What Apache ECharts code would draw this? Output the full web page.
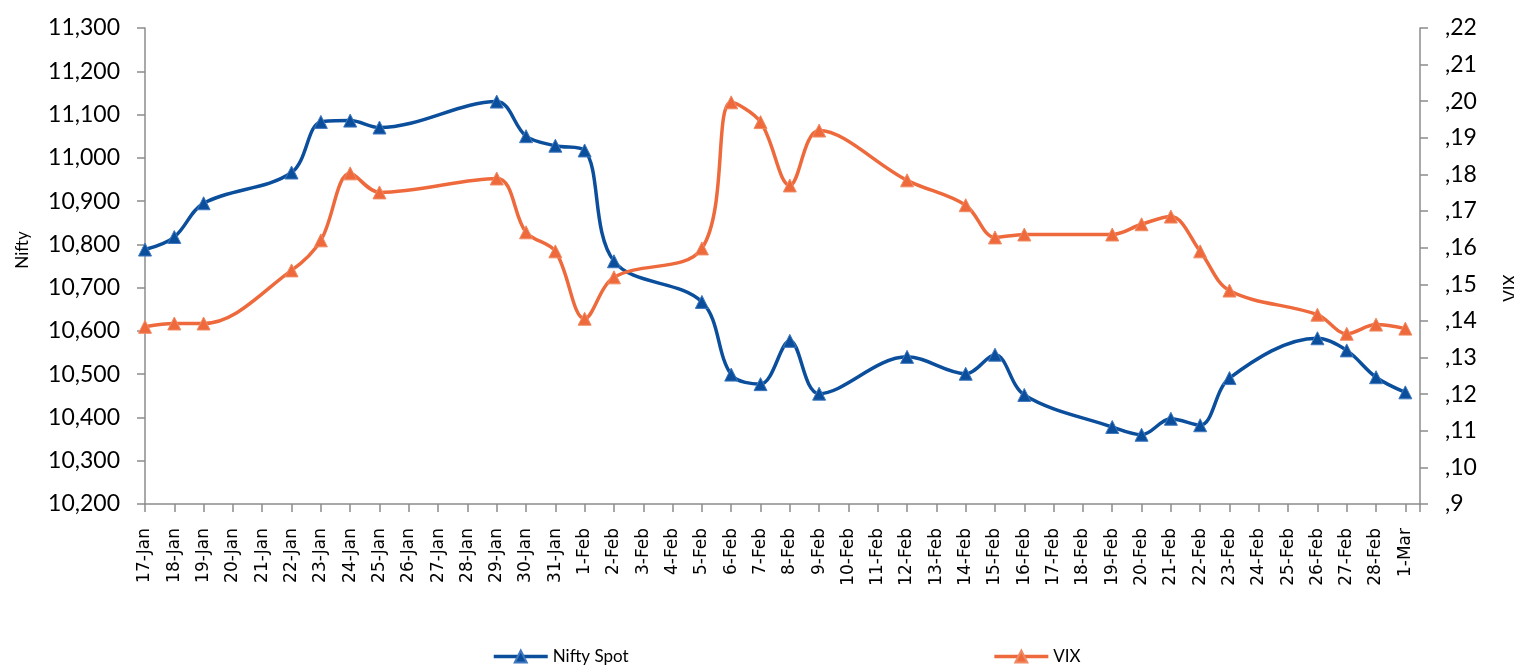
<!DOCTYPE html>
<html>
<head>
<meta charset="utf-8">
<script src="https://cdn.jsdelivr.net/npm/echarts@6/dist/echarts.min.js"></script>
<style>
html,body{margin:0;padding:0;background:#fff;overflow:hidden;}
#chart{width:1514px;height:665px;}
</style>
</head>
<body>
<div id="chart"></div>
<script>
var categories = ['17-Jan','18-Jan','19-Jan','20-Jan','21-Jan','22-Jan','23-Jan','24-Jan','25-Jan','26-Jan','27-Jan','28-Jan','29-Jan','30-Jan','31-Jan',
  '1-Feb','2-Feb','3-Feb','4-Feb','5-Feb','6-Feb','7-Feb','8-Feb','9-Feb','10-Feb','11-Feb','12-Feb','13-Feb','14-Feb','15-Feb','16-Feb','17-Feb','18-Feb','19-Feb','20-Feb','21-Feb','22-Feb','23-Feb','24-Feb','25-Feb','26-Feb','27-Feb','28-Feb','1-Mar'];

// null = no trading day (line passes over)
var niftySpot = [10788,10817,10895,null,null,10966,11083,11086,11070,null,null,null,11130,11050,11028,
  11017,10761,null,null,10667,10499,10477,10577,10455,null,null,10540,null,10501,10545,10452,null,null,10378,10360,10397,10382,10491,null,null,10583,10555,10493,10458];

var vix = [13.84,13.93,13.93,null,null,15.38,16.20,18.03,17.51,null,null,null,17.89,16.42,15.90,
  14.06,15.19,null,null,15.98,19.97,19.43,17.70,19.20,null,null,17.84,null,17.16,16.28,16.36,null,null,16.36,16.64,16.85,15.90,14.83,null,null,14.17,13.65,13.90,13.79];

var leftTicks = {min:10200, max:11300, interval:100};
var rightTicks = {min:9, max:22, interval:1};

function toPairs(arr){
  var out = [];
  arr.forEach(function(v,i){ if(v!==null) out.push([i,v]); });
  return out;
}

var blue = '#0B4F9C';
var orange = '#EE6A3C';
var axisColor = '#8C8C8C';

var chart = echarts.init(document.getElementById('chart'));
chart.setOption({
  animation:false,
  grid:{left:145, right:94, top:28, bottom:161, containLabel:false, outerBoundsMode:'none'},
  legend:{
    left:487, top:643,
    itemWidth:54, itemHeight:15, itemGap:364,
    lineStyle:{width:3.5},
    textStyle:{fontFamily:'Lato', fontSize:17, color:'#000'},
    data:['Nifty Spot','VIX']
  },
  xAxis:{
    type:'value', min:0, max:categories.length-0.5, interval:1,
    axisLine:{lineStyle:{color:axisColor, width:1.5}},
    axisTick:{length:8, lineStyle:{color:axisColor, width:1.5}},
    splitLine:{show:false},
    axisLabel:{
      rotate:90, margin:24, fontFamily:'DejaVu Sans', fontSize:17, color:'#000',
      showMaxLabel:true, showMinLabel:true,
      formatter:function(v){ return (Number.isInteger(v) && categories[v]) ? categories[v] : ''; }
    }
  },
  yAxis:[{
    type:'value', min:leftTicks.min, max:leftTicks.max, interval:leftTicks.interval,
    name:'Nifty', nameLocation:'middle', nameRotate:90, nameGap:114,
    nameTextStyle:{fontFamily:'Lato', fontSize:17, color:'#000', padding:[0,0,0,32]},
    axisLine:{show:true, lineStyle:{color:axisColor, width:1.5}},
    axisTick:{show:true, length:8, lineStyle:{color:axisColor, width:1.5}},
    splitLine:{show:false},
    axisLabel:{margin:25, fontFamily:'Lato', fontSize:23, color:'#000',
      formatter:function(v){ return v.toLocaleString('en-US'); }}
  },{
    type:'value', position:'right', min:rightTicks.min, max:rightTicks.max, interval:rightTicks.interval,
    name:'VIX', nameLocation:'middle', nameRotate:90, nameGap:82,
    nameTextStyle:{fontFamily:'Lato', fontSize:17, color:'#000', padding:[0,44,0,0]},
    axisLine:{show:true, lineStyle:{color:axisColor, width:1.5}},
    axisTick:{show:true, length:8, lineStyle:{color:axisColor, width:1.5}},
    splitLine:{show:false},
    axisLabel:{margin:25, fontFamily:'Lato', fontSize:23, color:'#000',
      formatter:function(v){ return ',' + v; }}
  }],
  series:[{
    name:'Nifty Spot', type:'line', yAxisIndex:0, smooth:0.35,
    data:toPairs(niftySpot),
    symbol:'triangle', symbolSize:13,
    lineStyle:{color:blue, width:3.5},
    itemStyle:{color:blue, borderColor:'#3F78BF', borderWidth:1}
  },{
    name:'VIX', type:'line', yAxisIndex:1, smooth:0.35,
    data:toPairs(vix),
    symbol:'triangle', symbolSize:13,
    lineStyle:{color:orange, width:3.5},
    itemStyle:{color:orange, borderColor:'#F08A63', borderWidth:1}
  }]
});
</script>
</body>
</html>
